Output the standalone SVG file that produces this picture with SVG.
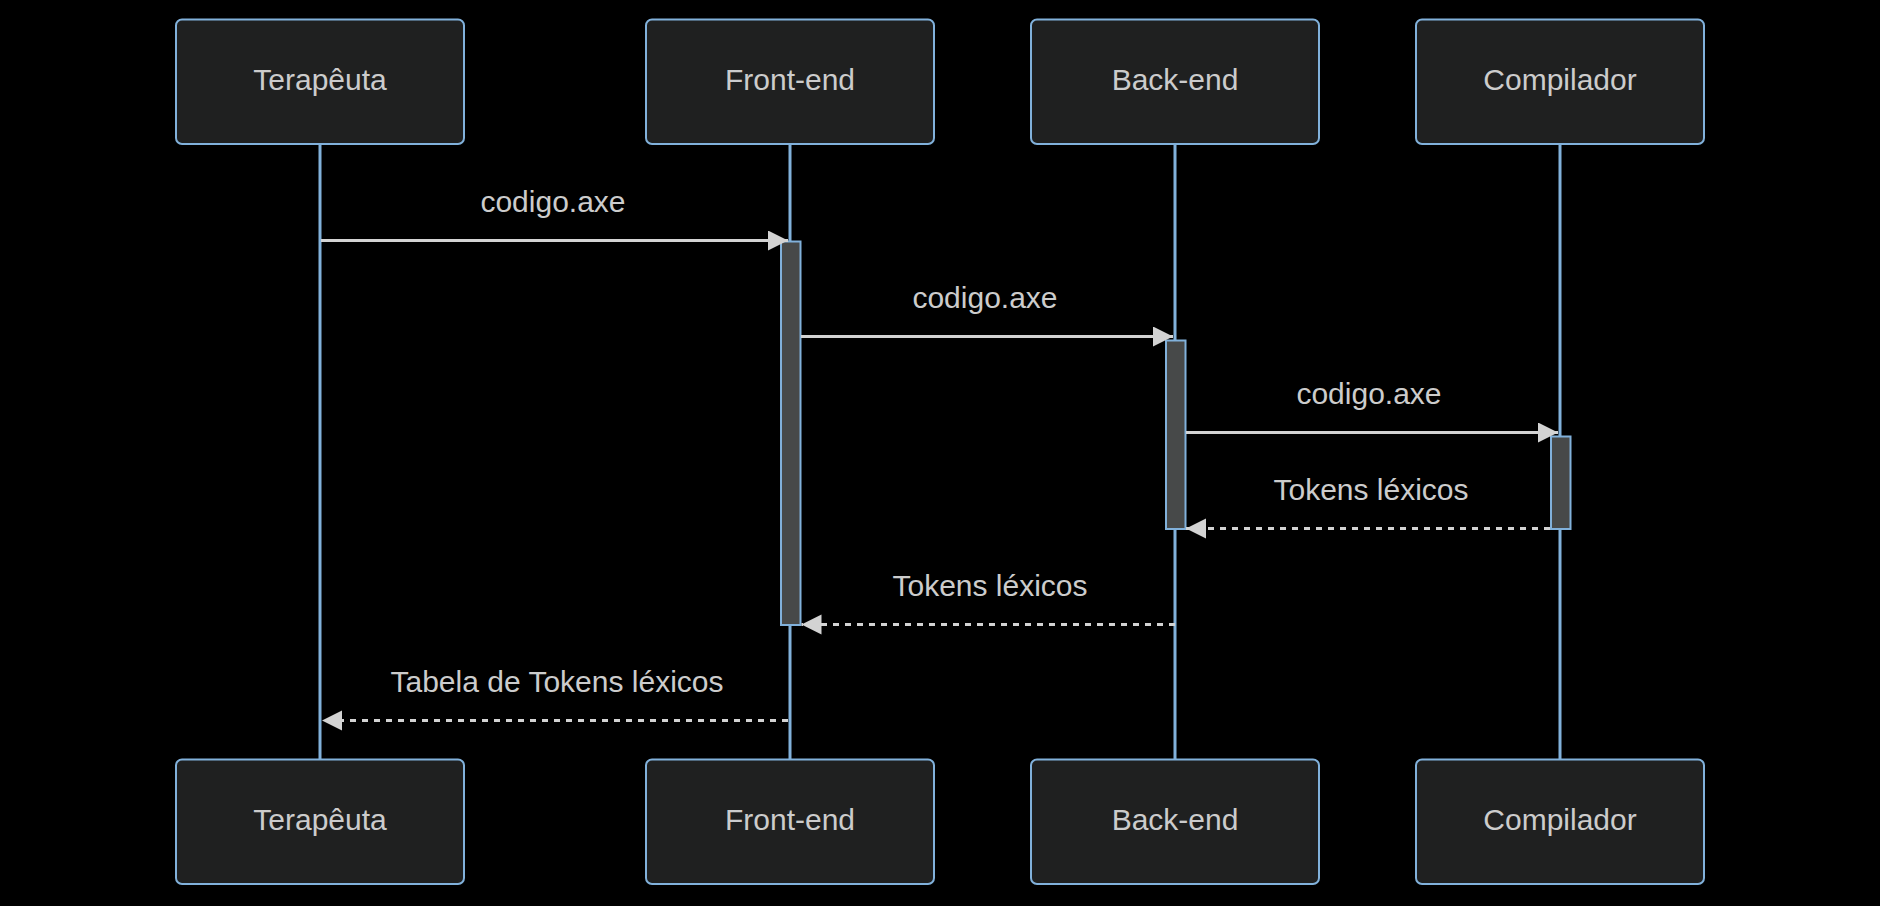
<svg xmlns="http://www.w3.org/2000/svg" width="1880" height="906" viewBox="0 0 1880 906">
<style>
.bg{fill:#000}
.actor rect{fill:#1f2020;stroke:#81b1db;stroke-width:2}
.actor text{fill:#cccccc;font-family:"Liberation Sans",Arial,sans-serif;font-size:30px;text-anchor:middle}
.life{stroke:#81b1db;stroke-width:3}
.act{fill:#474949;stroke:#81b1db;stroke-width:2}
.msg{stroke:#d3d3d3;stroke-width:2.9;fill:none}
.dash{stroke-dasharray:6,6}
.lbl{fill:#cccccc;font-family:"Liberation Sans",Arial,sans-serif;font-size:30px;text-anchor:middle}
</style>
<defs>
<marker id="ah" markerUnits="userSpaceOnUse" markerWidth="21" markerHeight="21" refX="20" refY="10" orient="auto" viewBox="0 0 21 21">
<path d="M0,0 L20,10 L0,20 z" fill="#d3d3d3"/>
</marker>
</defs>
<rect class="bg" x="0" y="0" width="1880" height="906"/>
<g id="lifelines">
<line class="life" x1="320" y1="144" x2="320" y2="759"/>
<line class="life" x1="790" y1="144" x2="790" y2="759"/>
<line class="life" x1="1175" y1="144" x2="1175" y2="759"/>
<line class="life" x1="1560" y1="144" x2="1560" y2="759"/>
</g>
<g id="actor-terapeuta-top" class="actor"><rect x="176" y="19.5" width="288" height="124.5" rx="6"/><text x="320" y="89.5">Terapêuta</text></g>
<g id="actor-frontend-top" class="actor"><rect x="646" y="19.5" width="288" height="124.5" rx="6"/><text x="790" y="89.5">Front-end</text></g>
<g id="actor-backend-top" class="actor"><rect x="1031" y="19.5" width="288" height="124.5" rx="6"/><text x="1175" y="89.5">Back-end</text></g>
<g id="actor-compilador-top" class="actor"><rect x="1416" y="19.5" width="288" height="124.5" rx="6"/><text x="1560" y="89.5">Compilador</text></g>
<g id="actor-terapeuta-bottom" class="actor"><rect x="176" y="759.5" width="288" height="124.5" rx="6"/><text x="320" y="829.5">Terapêuta</text></g>
<g id="actor-frontend-bottom" class="actor"><rect x="646" y="759.5" width="288" height="124.5" rx="6"/><text x="790" y="829.5">Front-end</text></g>
<g id="actor-backend-bottom" class="actor"><rect x="1031" y="759.5" width="288" height="124.5" rx="6"/><text x="1175" y="829.5">Back-end</text></g>
<g id="actor-compilador-bottom" class="actor"><rect x="1416" y="759.5" width="288" height="124.5" rx="6"/><text x="1560" y="829.5">Compilador</text></g>
<g id="activations">
<rect class="act" x="781" y="241.5" width="19.5" height="383.5"/>
<rect class="act" x="1166" y="340.5" width="19.5" height="188.5"/>
<rect class="act" x="1551" y="436.5" width="19.5" height="92.5"/>
</g>
<g id="connectors">
<line class="msg" x1="321" y1="240.5" x2="788" y2="240.5" marker-end="url(#ah)"/>
<text class="lbl" x="553" y="212">codigo.axe</text>
<line class="msg" x1="801" y1="336.5" x2="1173" y2="336.5" marker-end="url(#ah)"/>
<text class="lbl" x="985" y="308">codigo.axe</text>
<line class="msg" x1="1186" y1="432.5" x2="1558" y2="432.5" marker-end="url(#ah)"/>
<text class="lbl" x="1369" y="404">codigo.axe</text>
<line class="msg dash" x1="1550" y1="528.5" x2="1186" y2="528.5" marker-end="url(#ah)"/>
<text class="lbl" x="1371" y="499.5">Tokens léxicos</text>
<line class="msg dash" x1="1175" y1="624.5" x2="801.5" y2="624.5" marker-end="url(#ah)"/>
<text class="lbl" x="990" y="595.5">Tokens léxicos</text>
<line class="msg dash" x1="788" y1="720.5" x2="322" y2="720.5" marker-end="url(#ah)"/>
<text class="lbl" x="557" y="691.5">Tabela de Tokens léxicos</text>
</g>
</svg>
